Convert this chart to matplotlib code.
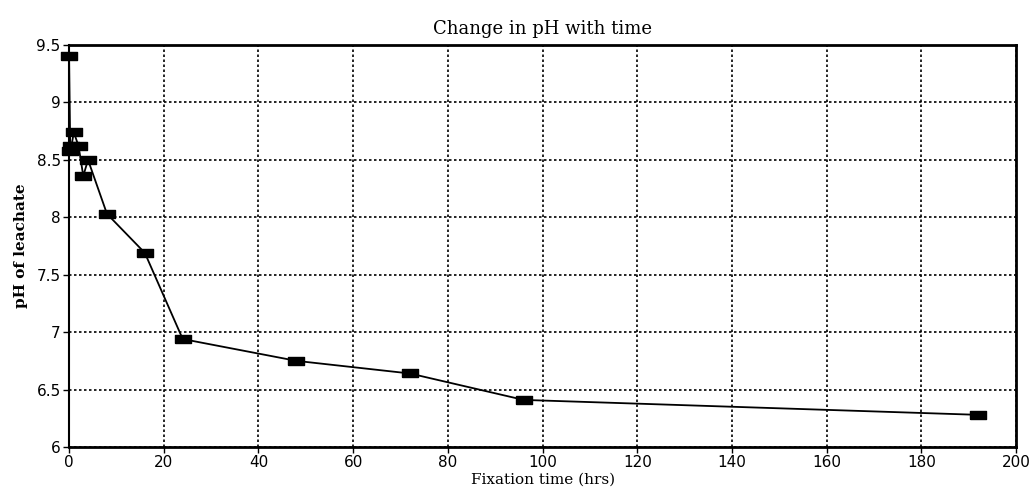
import matplotlib
matplotlib.use("Agg")
import matplotlib.pyplot as plt

# Fixation time (hrs) and pH of leachate
times = [0, 0.25, 0.5, 1, 2, 3, 4, 8, 16, 24, 48, 72, 96, 192]
ph = [9.40, 8.58, 8.62, 8.74, 8.62, 8.36, 8.50, 8.03, 7.69, 6.94, 6.75, 6.64, 6.41, 6.28]

x_ticks = list(range(0, 201, 20))
y_ticks = [6, 6.5, 7, 7.5, 8, 8.5, 9, 9.5]
y_tick_labels = ['6', '6.5', '7', '7.5', '8', '8.5', '9', '9.5']


def main():
    fig = plt.figure(figsize=(10.31, 5), dpi=100)
    ax = fig.add_axes([0.067, 0.106, 0.9185, 0.804])

    # flat rectangular marker like the original plot
    rect = [(-1, -0.5), (1, -0.5), (1, 0.5), (-1, 0.5), (-1, -0.5)]
    ax.plot(times, ph, color='black', linewidth=1.3,
            marker=rect, markersize=11.5, markerfacecolor='black',
            markeredgecolor='black', clip_on=False, zorder=3)

    ax.set_xlim(0, 200)
    ax.set_ylim(6, 9.5)
    ax.set_xticks(x_ticks)
    ax.set_yticks(y_ticks)
    ax.set_yticklabels(y_tick_labels)

    ax.grid(True, color='black', linestyle=(0, (1.5, 1.5)), linewidth=1.2)
    ax.tick_params(axis='both', direction='out', length=4, width=1,
                   labelsize=11, colors='black', pad=2)

    for side in ['top', 'right', 'bottom']:
        ax.spines[side].set_linewidth(2)
    ax.spines['left'].set_linewidth(1.5)

    ax.set_title('Change in pH with time', fontsize=13,
                 family='DejaVu Serif', pad=8)
    ax.set_xlabel('Fixation time (hrs)', fontsize=11, family='DejaVu Serif',
                  labelpad=2)
    ax.set_ylabel('pH of leachate', fontsize=11, family='DejaVu Serif',
                  fontweight='bold', labelpad=6)

    fig.savefig('out.png', dpi=100)


if __name__ == "__main__":
    main()
